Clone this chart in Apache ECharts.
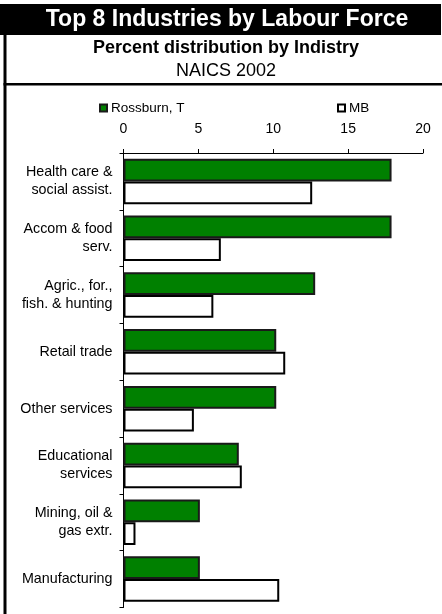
<!DOCTYPE html>
<html>
<head>
<meta charset="utf-8">
<script src="https://cdn.jsdelivr.net/npm/echarts@6/dist/echarts.min.js"></script>
<style>html,body{margin:0;padding:0;background:#fff;}#c{width:442px;height:614px;}</style>
</head>
<body>
<div id="c"></div>
<script>
const categories = ["Health care &\nsocial assist.", "Accom & food\nserv.", "Agric., for.,\nfish. & hunting", "Retail trade", "Other services", "Educational\nservices", "Mining, oil &\ngas extr.", "Manufacturing"];
const rossburn = [17.9, 17.9, 12.8, 10.2, 10.2, 7.7, 5.1, 5.1];
const mb = [12.6, 6.5, 6.0, 10.8, 4.7, 7.9, 0.8, 10.4];
const xTicks = [0, 5, 10, 15, 20];
const seriesNames = ["Rossburn, T", "MB"];

const FONT = "'Liberation Sans', Arial, sans-serif";
const chart = echarts.init(document.getElementById('c'), null, {renderer: 'canvas'});
chart.setOption({
  animation: false,
  backgroundColor: '#fff',
  graphic: [
    {type: 'rect', shape: {x: 0, y: 4, width: 441, height: 31}, style: {fill: '#000'}},
    {type: 'rect', shape: {x: 3.5, y: 4, width: 3, height: 612}, style: {fill: '#000'}},
    {type: 'rect', shape: {x: 3.5, y: 83, width: 440, height: 2.5}, style: {fill: '#000'}},
    {type: 'text', x: 227, y: 20, style: {text: 'Top 8 Industries by Labour Force', fill: '#fff', font: 'bold 23px ' + FONT, textAlign: 'center', textVerticalAlign: 'middle'}},
    {type: 'text', x: 226, y: 48, style: {text: 'Percent distribution by Indistry', fill: '#000', font: 'bold 18px ' + FONT, textAlign: 'center', textVerticalAlign: 'middle'}},
    {type: 'text', x: 226, y: 71.5, style: {text: 'NAICS 2002', fill: '#000', font: '18px ' + FONT, textAlign: 'center', textVerticalAlign: 'middle'}}
  ],
  legend: [
    {data: [seriesNames[0]], icon: 'rect', left: 94, top: 96, itemWidth: 7, itemHeight: 7, itemGap: 0, textStyle: {fontFamily: FONT, fontSize: 13.5, color: '#000', padding: [0,0,0,-1]}},
    {data: [seriesNames[1]], icon: 'rect', left: 332, top: 96, itemWidth: 7, itemHeight: 7, itemGap: 0, textStyle: {fontFamily: FONT, fontSize: 13.5, color: '#000', padding: [0,0,0,-1]}}
  ],
  grid: {left: 123.5, right: 19, top: 153, bottom: 6.5, containLabel: false},
  xAxis: {
    type: 'value', position: 'top', min: xTicks[0], max: xTicks[xTicks.length - 1], interval: 5,
    splitLine: {show: false},
    axisLine: {show: true, lineStyle: {color: '#000', width: 1}},
    axisTick: {show: true, inside: false, length: 4, lineStyle: {color: '#000'}},
    axisLabel: {fontFamily: FONT, fontSize: 14, color: '#000', margin: 17}
  },
  yAxis: {
    type: 'category', inverse: true, data: categories,
    axisLine: {show: true, lineStyle: {color: '#000', width: 1}},
    axisTick: {show: true, inside: false, length: 4, lineStyle: {color: '#000'}},
    axisLabel: {fontFamily: FONT, fontSize: 14.3, color: '#000', margin: 11, lineHeight: 18, align: 'right'}
  },
  series: [
    {name: seriesNames[0], type: 'bar', data: rossburn, barGap: '0%', barCategoryGap: '20%',
      itemStyle: {color: '#008000', borderColor: '#1a1a1a', borderWidth: 2}},
    {name: seriesNames[1], type: 'bar', data: mb, barGap: '0%', barCategoryGap: '20%',
      itemStyle: {color: '#ffffff', borderColor: '#000', borderWidth: 2}}
  ]
});
</script>
</body>
</html>
